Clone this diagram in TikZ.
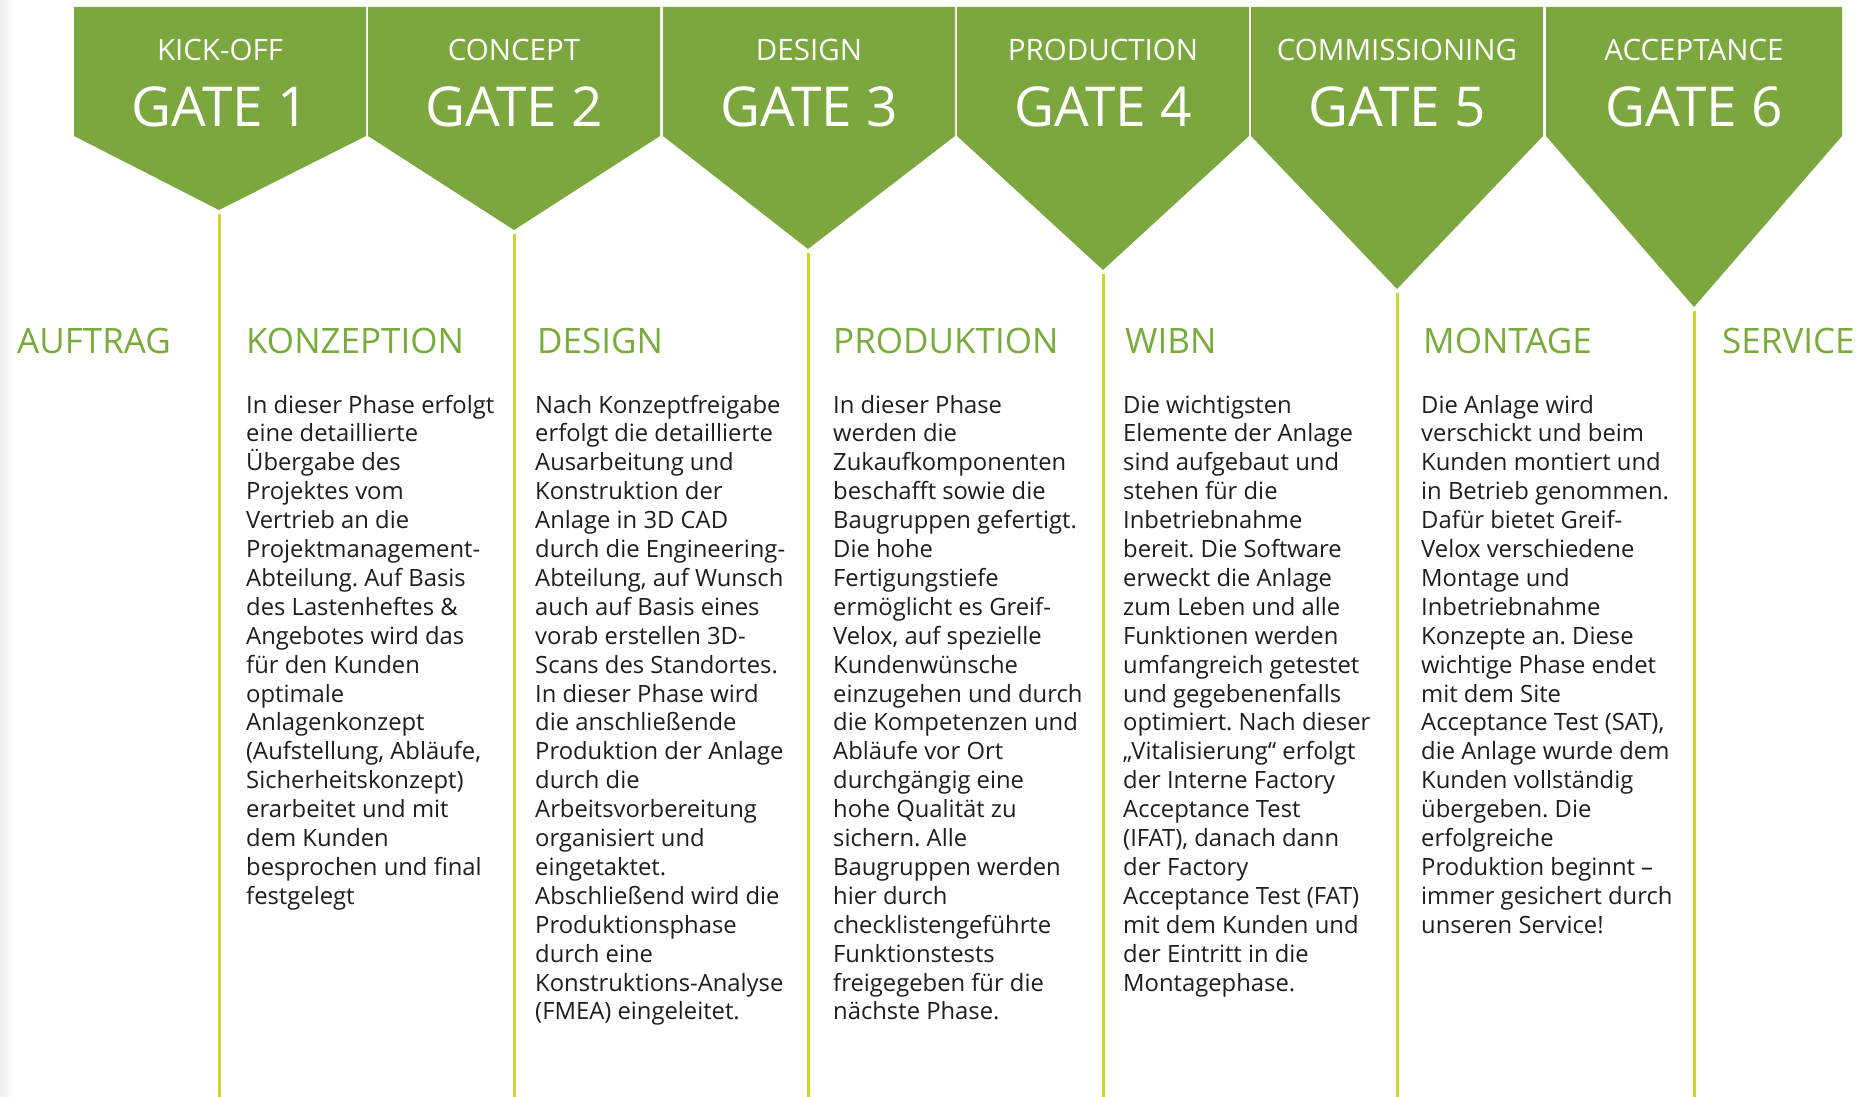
\documentclass[tikz,border=0pt]{standalone}
\usepackage{fontspec}
\setmainfont{Open Sans}
\frenchspacing
\definecolor{gategreen}{HTML}{7BA73E}
\definecolor{titlegreen}{HTML}{78AB3B}
\definecolor{linegreen}{HTML}{C9D72E}
\definecolor{bodytext}{HTML}{1E1E1E}
\tikzset{
  gatefill/.style={fill=gategreen},
  subtxt/.style={text=white, inner sep=0, anchor=base, font=\fontsize{29.5}{32}\selectfont},
  gatetxt/.style={text=white, inner sep=0, anchor=base, font=\fontsize{55}{60}\selectfont},
  phasetitle/.style={text=titlegreen, inner sep=0, anchor=base west, font=\fontsize{35}{40}\selectfont},
  bodybox/.style={text=bodytext, inner sep=0, anchor=base west, font=\fontsize{23.8}{28.9}\selectfont},
  vline/.style={draw=linegreen, line width=3pt}
}
\newcommand{\colbody}[1]{\parbox[t]{320pt}{\raggedright\frenchspacing #1}}
\begin{document}
\begin{tikzpicture}[x=1pt,y=-1pt]
\useasboundingbox (0,0) rectangle (1866,1097);
\fill[white] (0,0) rectangle (1866,1097);
\shade[left color=black!7, right color=white] (0,0) rectangle (14,1097);

\foreach \i/\L/\R/\T/\ty/\sub/\gn in {
  1/74/366/219/210/KICK-OFF/GATE 1,
  2/368/660/514/230/CONCEPT/GATE 2,
  3/663/955/808/249/DESIGN/GATE 3,
  4/957/1249/1103/270/PRODUCTION/GATE 4,
  5/1251/1543/1397/289/COMMISSIONING/GATE 5,
  6/1546/1842/1694/307/ACCEPTANCE/GATE 6}{
  \fill[gatefill] (\L,7) -- (\R,7) -- (\R,136) -- (\T,\ty) -- (\L,136) -- cycle;
  \node[subtxt] (sub\i) at ({(\L+\R)/2},61) {\sub};
  \node[gatetxt] (gate\i) at ({(\L+\R)/2},127) {\gn};
  \coordinate (tip\i) at (\T,{\ty+4});
  \coordinate (bot\i) at (\T,1097);
  \draw[vline] (tip\i) -- (bot\i);
}

\node[phasetitle] (t0) at (17,353) {AUFTRAG};
\node[phasetitle] (t1) at (246,353) {KONZEPTION};
\node[phasetitle] (t2) at (537,353) {DESIGN};
\node[phasetitle] (t3) at (833,353) {PRODUKTION};
\node[phasetitle] (t4) at (1125,353) {WIBN};
\node[phasetitle] (t5) at (1423,353) {MONTAGE};
\node[phasetitle] (t6) at (1722,353) {SERVICE};

\node[bodybox] (b1) at (246,413) {\colbody{In dieser Phase erfolgt\\
eine detaillierte\\
Übergabe des\\
Projektes vom\\
Vertrieb an die\\
Projektmanagement-\\
Abteilung. Auf Basis\\
des Lastenheftes \&\\
Angebotes wird das\\
für den Kunden\\
optimale\\
Anlagenkonzept\\
(Aufstellung, Abläufe,\\
Sicherheitskonzept)\\
erarbeitet und mit\\
dem Kunden\\
besprochen und final\\
festgelegt}};

\node[bodybox] (b2) at (535,413) {\colbody{Nach Konzeptfreigabe\\
erfolgt die detaillierte\\
Ausarbeitung und\\
Konstruktion der\\
Anlage in 3D CAD\\
durch die Engineering-\\
Abteilung, auf Wunsch\\
auch auf Basis eines\\
vorab erstellen 3D-\\
Scans des Standortes.\\
In dieser Phase wird\\
die anschließende\\
Produktion der Anlage\\
durch die\\
Arbeitsvorbereitung\\
organisiert und\\
eingetaktet.\\
Abschließend wird die\\
Produktionsphase\\
durch eine\\
Konstruktions-Analyse\\
(FMEA) eingeleitet.}};

\node[bodybox] (b3) at (833,413) {\colbody{In dieser Phase\\
werden die\\
Zukaufkomponenten\\
beschafft sowie die\\
Baugruppen gefertigt.\\
Die hohe\\
Fertigungstiefe\\
ermöglicht es Greif-\\
Velox, auf spezielle\\
Kundenwünsche\\
einzugehen und durch\\
die Kompetenzen und\\
Abläufe vor Ort\\
durchgängig eine\\
hohe Qualität zu\\
sichern. Alle\\
Baugruppen werden\\
hier durch\\
checklistengeführte\\
Funktionstests\\
freigegeben für die\\
nächste Phase.}};

\node[bodybox] (b4) at (1123,413) {\colbody{Die wichtigsten\\
Elemente der Anlage\\
sind aufgebaut und\\
stehen für die\\
Inbetriebnahme\\
bereit. Die Software\\
erweckt die Anlage\\
zum Leben und alle\\
Funktionen werden\\
umfangreich getestet\\
und gegebenenfalls\\
optimiert. Nach dieser\\
„Vitalisierung“ erfolgt\\
der Interne Factory\\
Acceptance Test\\
(IFAT), danach dann\\
der Factory\\
Acceptance Test (FAT)\\
mit dem Kunden und\\
der Eintritt in die\\
Montagephase.}};

\node[bodybox] (b5) at (1421,413) {\colbody{Die Anlage wird\\
verschickt und beim\\
Kunden montiert und\\
in Betrieb genommen.\\
Dafür bietet Greif-\\
Velox verschiedene\\
Montage und\\
Inbetriebnahme\\
Konzepte an. Diese\\
wichtige Phase endet\\
mit dem Site\\
Acceptance Test (SAT),\\
die Anlage wurde dem\\
Kunden vollständig\\
übergeben. Die\\
erfolgreiche\\
Produktion beginnt –\\
immer gesichert durch\\
unseren Service!}};
\end{tikzpicture}
\end{document}
